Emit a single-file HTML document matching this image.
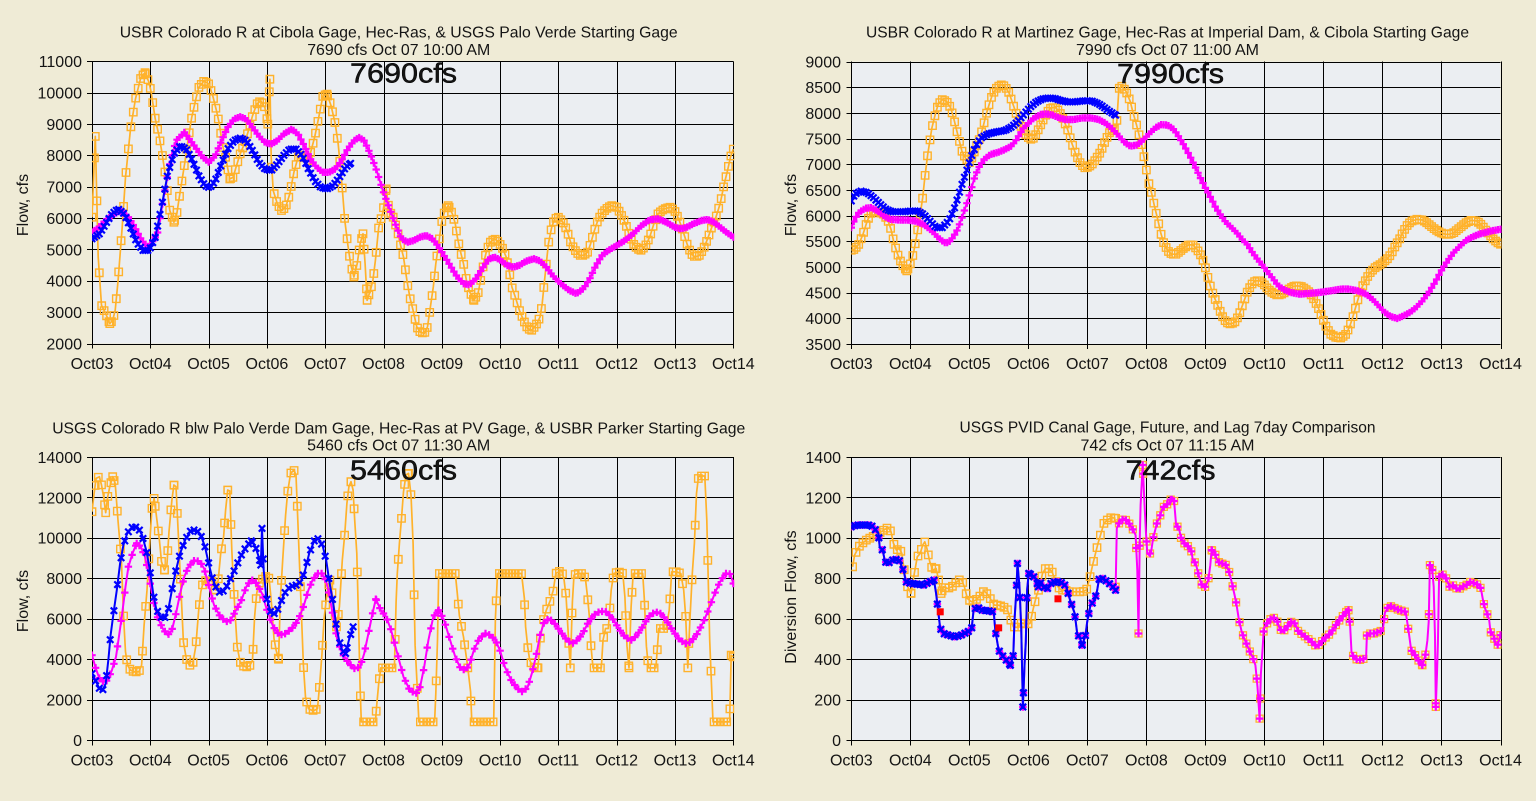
<!DOCTYPE html>
<html><head><meta charset="utf-8">
<style>
html,body{margin:0;padding:0;background:#EFEBD6;overflow:hidden;}
svg{display:block}
text{font-family:"Liberation Sans",Arial,sans-serif;fill:#141414;}
</style></head>
<body>
<svg id="s" width="1536" height="801" xmlns="http://www.w3.org/2000/svg">
<rect width="1536" height="801" fill="#EFEBD6"/>
<g id="plots"></g>

<!-- Titles -->
<g font-size="16" text-anchor="middle">
<text x="398.7" y="37.3" textLength="558" lengthAdjust="spacingAndGlyphs">USBR Colorado R at Cibola Gage, Hec-Ras, &amp; USGS Palo Verde Starting Gage</text>
<text x="398.7" y="55" textLength="183" lengthAdjust="spacingAndGlyphs">7690 cfs Oct 07 10:00 AM</text>
<text x="1167.5" y="37.3" textLength="603" lengthAdjust="spacingAndGlyphs">USBR Colorado R at Martinez Gage, Hec-Ras at Imperial Dam, &amp; Cibola Starting Gage</text>
<text x="1167.5" y="55" textLength="183" lengthAdjust="spacingAndGlyphs">7990 cfs Oct 07 11:00 AM</text>
<text x="398.7" y="433.3" textLength="693" lengthAdjust="spacingAndGlyphs">USGS Colorado R blw Palo Verde Dam Gage, Hec-Ras at PV Gage, &amp; USBR Parker Starting Gage</text>
<text x="398.7" y="450.7" textLength="183" lengthAdjust="spacingAndGlyphs">5460 cfs Oct 07 11:30 AM</text>
<text x="1167.5" y="432.7" textLength="416" lengthAdjust="spacingAndGlyphs">USGS PVID Canal Gage, Future, and Lag 7day Comparison</text>
<text x="1167.5" y="450.7" textLength="174" lengthAdjust="spacingAndGlyphs">742 cfs Oct 07 11:15 AM</text>
</g>

<!-- Big labels -->
<g font-size="28" style="fill:#000;stroke:#000;stroke-width:0.5">
<text x="350" y="82.7" textLength="107" lengthAdjust="spacingAndGlyphs">7690cfs</text>
<text x="1117" y="83" textLength="107" lengthAdjust="spacingAndGlyphs">7990cfs</text>
<text x="350" y="479.5" textLength="107" lengthAdjust="spacingAndGlyphs">5460cfs</text>
<text x="1125.5" y="479.5" textLength="90" lengthAdjust="spacingAndGlyphs">742cfs</text>
</g>

<!-- Y axis titles -->
<g font-size="16" text-anchor="middle">
<text x="28" y="205" transform="rotate(-90 28 205)">Flow, cfs</text>
<text x="796" y="205" transform="rotate(-90 796 205)">Flow, cfs</text>
<text x="28" y="601" transform="rotate(-90 28 601)">Flow, cfs</text>
<text x="796" y="597" transform="rotate(-90 796 597)">Diversion Flow, cfs</text>
</g>

<!-- Y tick labels -->
<g font-size="16" text-anchor="end">
<text x="82" y="67.1">11000</text>
<text x="82" y="98.5">10000</text>
<text x="82" y="129.8">9000</text>
<text x="82" y="161.2">8000</text>
<text x="82" y="192.5">7000</text>
<text x="82" y="223.9">6000</text>
<text x="82" y="255.3">5000</text>
<text x="82" y="286.6">4000</text>
<text x="82" y="318.0">3000</text>
<text x="82" y="349.3">2000</text>

<text x="841" y="67.5">9000</text>
<text x="841" y="93.2">8500</text>
<text x="841" y="118.8">8000</text>
<text x="841" y="144.5">7500</text>
<text x="841" y="170.1">7000</text>
<text x="841" y="195.8">6500</text>
<text x="841" y="221.5">6000</text>
<text x="841" y="247.1">5500</text>
<text x="841" y="272.8">5000</text>
<text x="841" y="298.4">4500</text>
<text x="841" y="324.1">4000</text>
<text x="841" y="349.8">3500</text>

<text x="82" y="462.8">14000</text>
<text x="82" y="503.3">12000</text>
<text x="82" y="543.7">10000</text>
<text x="82" y="584.2">8000</text>
<text x="82" y="624.7">6000</text>
<text x="82" y="665.1">4000</text>
<text x="82" y="705.6">2000</text>
<text x="82" y="746.1">0</text>

<text x="841" y="462.8">1400</text>
<text x="841" y="503.3">1200</text>
<text x="841" y="543.7">1000</text>
<text x="841" y="584.2">800</text>
<text x="841" y="624.7">600</text>
<text x="841" y="665.1">400</text>
<text x="841" y="705.6">200</text>
<text x="841" y="746.1">0</text>
</g>

<!-- X tick labels -->
<g font-size="16" text-anchor="middle">
<text x="92" y="369">Oct03</text>
<text x="150.3" y="369">Oct04</text>
<text x="208.6" y="369">Oct05</text>
<text x="266.9" y="369">Oct06</text>
<text x="325.2" y="369">Oct07</text>
<text x="383.5" y="369">Oct08</text>
<text x="441.8" y="369">Oct09</text>
<text x="500.1" y="369">Oct10</text>
<text x="558.4" y="369">Oct11</text>
<text x="616.7" y="369">Oct12</text>
<text x="675" y="369">Oct13</text>
<text x="733.3" y="369">Oct14</text>

<text x="851.3" y="369">Oct03</text>
<text x="910.3" y="369">Oct04</text>
<text x="969.3" y="369">Oct05</text>
<text x="1028.4" y="369">Oct06</text>
<text x="1087.4" y="369">Oct07</text>
<text x="1146.4" y="369">Oct08</text>
<text x="1205.4" y="369">Oct09</text>
<text x="1264.4" y="369">Oct10</text>
<text x="1323.5" y="369">Oct11</text>
<text x="1382.5" y="369">Oct12</text>
<text x="1441.5" y="369">Oct13</text>
<text x="1500.5" y="369">Oct14</text>

<text x="92" y="765.7">Oct03</text>
<text x="150.3" y="765.7">Oct04</text>
<text x="208.6" y="765.7">Oct05</text>
<text x="266.9" y="765.7">Oct06</text>
<text x="325.2" y="765.7">Oct07</text>
<text x="383.5" y="765.7">Oct08</text>
<text x="441.8" y="765.7">Oct09</text>
<text x="500.1" y="765.7">Oct10</text>
<text x="558.4" y="765.7">Oct11</text>
<text x="616.7" y="765.7">Oct12</text>
<text x="675" y="765.7">Oct13</text>
<text x="733.3" y="765.7">Oct14</text>

<text x="851.3" y="765.7">Oct03</text>
<text x="910.3" y="765.7">Oct04</text>
<text x="969.3" y="765.7">Oct05</text>
<text x="1028.4" y="765.7">Oct06</text>
<text x="1087.4" y="765.7">Oct07</text>
<text x="1146.4" y="765.7">Oct08</text>
<text x="1205.4" y="765.7">Oct09</text>
<text x="1264.4" y="765.7">Oct10</text>
<text x="1323.5" y="765.7">Oct11</text>
<text x="1382.5" y="765.7">Oct12</text>
<text x="1441.5" y="765.7">Oct13</text>
<text x="1500.5" y="765.7">Oct14</text>
</g>
</svg>

<script>
(function(){
var NS="http://www.w3.org/2000/svg";
var G=document.getElementById('plots');
function el(tag,attrs,parent){var e=document.createElementNS(NS,tag);for(var k in attrs)e.setAttribute(k,attrs[k]);(parent||G).appendChild(e);return e;}
var OR="#FFB22B",MG="#FF00FF",BL="#0000FF";
var charts=[
 {x0:92,x1:733.3,y0:61.3,y1:343.5,ny:9,zx0:7,zx1:1557,zy0:11,zy1:860},
 {x0:851.3,x1:1500.5,y0:61.7,y1:344,ny:11,zx0:7,zx1:1562,zy0:11,zy1:860},
 {x0:92,x1:733.3,y0:457,y1:740.3,ny:7,zx0:7,zx1:1557,zy0:11,zy1:860},
 {x0:851.3,x1:1500.5,y0:457,y1:740.3,ny:7,zx0:7,zx1:1562,zy0:11,zy1:860}
];
function mapPts(c,a){var p=[];for(var i=0;i<a.length;i+=2){p.push([c.x0+(a[i]-c.zx0)/(c.zx1-c.zx0)*(c.x1-c.x0),c.y0+(a[i+1]-c.zy0)/(c.zy1-c.zy0)*(c.y1-c.y0)]);}return p;}
function sample(p,step){
 var out=[];var nx=p[0][0];
 for(var i=0;i<p.length-1;i++){var a=p[i],b=p[i+1];if(b[0]<=a[0])continue;
  while(nx<=b[0]+1e-6){var t=(nx-a[0])/(b[0]-a[0]);out.push([nx,a[1]+t*(b[1]-a[1])]);nx+=step;}}
 for(var j=1;j<p.length-1;j++){var y=p[j][1],y1=p[j-1][1],y2=p[j+1][1];
  if(((y<y1&&y<y2)||(y>y1&&y>y2))&&Math.abs(y-(y1+y2)/2)>6)out.push(p[j]);}
 out.push(p[p.length-1]);
 return out;
}
function line(g,p,col,w){el('polyline',{points:p.map(function(q){return q[0].toFixed(1)+','+q[1].toFixed(1);}).join(' '),fill:'none',stroke:col,'stroke-width':w,'stroke-linejoin':'round'},g);}
function marks(g,m,type,col,size,w){
 var d='',h=size/2;
 m.forEach(function(q){var x=q[0],y=q[1];
  if(type==='sq')d+='M'+(x-h).toFixed(1)+' '+(y-h).toFixed(1)+'h'+size+'v'+size+'h'+(-size)+'z';
  else if(type==='plus')d+='M'+(x-h).toFixed(1)+' '+y.toFixed(1)+'h'+size+'M'+x.toFixed(1)+' '+(y-h).toFixed(1)+'v'+size;
  else d+='M'+(x-h).toFixed(1)+' '+(y-h).toFixed(1)+'l'+size+' '+size+'M'+(x+h).toFixed(1)+' '+(y-h).toFixed(1)+'l'+(-size)+' '+size;
 });
 el('path',{d:d,fill:'none',stroke:col,'stroke-width':w},g);
}
function frame(c,i){
 el('rect',{x:c.x0,y:c.y0,width:c.x1-c.x0,height:c.y1-c.y0,fill:'#EBEEF2'});
 var cp=el('clipPath',{id:'cp'+i});
 el('rect',{x:c.x0,y:c.y0-1,width:c.x1-c.x0+1,height:c.y1-c.y0+1},cp);
}
function grid(c){
 var g=el('g',{stroke:'#000','stroke-width':1,'shape-rendering':'crispEdges'});
 for(var i=0;i<=c.ny;i++){var y=Math.round(c.y0+i*(c.y1-c.y0)/c.ny)+0.5;el('line',{x1:c.x0-5,y1:y,x2:c.x1,y2:y},g);}
 for(var d=0;d<=11;d++){var x=Math.round(c.x0+d*(c.x1-c.x0)/11)+0.5;el('line',{x1:x,y1:c.y0,x2:x,y2:c.y1+5},g);}
}
var D={};
D.c1o=[7,480,15,237,22,600,30,745,40,770,50,800,57,790,63,760,70,670,80,510,88,360,100,215,112,125,125,60,135,45,145,75,150,105,160,185,170,240,178,300,185,360,195,460,205,495,212,470,218,420,225,365,232,310,240,240,248,180,258,125,265,90,278,70,290,80,300,120,308,160,315,200,322,260,330,300,340,365,348,360,355,330,365,290,375,260,385,220,395,175,405,140,415,130,425,150,432,200,437,65,440,300,445,400,455,440,465,460,475,450,485,410,495,345,505,300,515,290,530,310,545,240,555,180,565,115,575,110,585,145,595,200,602,260,608,340,613,410,618,490,625,560,632,620,640,660,648,620,655,560,662,530,667,620,672,730,680,700,686,670,692,610,700,510,710,465,718,395,725,460,735,480,745,520,752,560,760,600,768,670,775,720,783,760,792,810,800,825,810,830,818,810,825,750,832,690,838,620,845,560,852,495,860,460,868,445,878,470,885,500,890,540,897,580,905,620,912,670,920,705,930,730,940,710,948,660,955,610,962,575,970,555,980,545,990,555,1000,575,1008,600,1015,640,1022,690,1030,720,1040,760,1050,790,1060,815,1070,820,1080,805,1090,780,1095,740,1100,680,1105,620,1110,560,1118,510,1125,485,1135,480,1145,495,1155,520,1165,560,1175,580,1185,595,1195,595,1205,585,1212,560,1220,525,1228,495,1238,470,1250,455,1262,445,1275,450,1285,470,1295,495,1305,530,1315,560,1325,575,1335,580,1345,565,1355,540,1365,500,1375,470,1390,455,1405,450,1415,460,1425,485,1435,520,1445,560,1455,590,1465,600,1475,595,1485,575,1495,545,1505,510,1515,480,1525,440,1535,380,1543,340,1550,300,1557,275];
D.c1m=[7,525,20,515,35,495,55,475,75,460,95,480,110,510,125,545,140,570,150,560,165,530,180,420,195,320,210,250,230,225,245,250,260,275,275,300,290,315,305,295,320,250,335,210,350,185,365,178,380,185,395,210,410,235,425,255,440,260,455,250,470,230,490,215,505,230,520,265,535,305,550,330,565,345,580,345,595,335,610,310,625,275,640,250,652,240,665,250,680,290,695,340,710,400,725,450,740,500,755,545,770,555,785,550,800,540,815,535,830,545,845,570,860,600,875,630,890,660,905,680,920,683,935,665,950,635,965,607,980,600,995,610,1010,625,1025,630,1040,625,1055,613,1075,605,1090,612,1105,630,1120,655,1140,680,1160,700,1178,710,1195,695,1210,665,1225,625,1240,595,1255,580,1275,565,1295,550,1315,530,1335,505,1355,488,1375,485,1395,495,1415,510,1430,515,1445,510,1460,500,1480,490,1495,487,1510,495,1525,510,1540,525,1557,540];
D.c1b=[7,545,25,530,40,500,55,470,70,455,85,470,100,510,115,555,130,580,145,580,160,540,175,450,190,350,205,290,220,265,235,275,250,310,265,355,280,385,292,392,305,370,320,320,335,275,350,250,365,242,380,250,395,280,410,315,425,335,440,340,455,320,470,295,485,275,500,275,515,295,530,335,545,370,560,390,575,395,590,385,605,360,620,330,632,318];
D.c2o=[7,578,15,575,25,560,35,530,45,490,55,465,65,460,75,465,85,470,95,490,102,515,110,560,118,590,128,620,140,640,150,615,157,580,165,525,172,470,178,420,183,360,190,290,195,250,200,210,208,170,215,140,225,125,235,130,245,150,252,180,260,220,266,250,272,280,280,300,290,315,298,295,305,270,315,240,322,210,330,170,337,140,345,110,355,90,365,80,375,85,385,105,393,135,400,160,408,190,415,210,425,230,435,245,445,240,455,215,465,190,475,165,485,150,495,148,505,160,515,185,525,215,535,255,545,290,555,315,565,330,575,328,585,318,595,300,605,280,615,250,625,225,635,215,642,210,648,92,655,85,665,100,675,130,682,165,690,200,697,235,703,265,710,310,715,345,720,380,727,410,733,445,740,480,748,525,755,555,765,580,775,590,785,590,795,580,805,570,815,562,825,562,835,575,845,595,853,620,860,655,868,690,875,715,885,745,895,775,905,795,915,800,925,795,935,775,945,740,955,705,965,682,975,670,985,670,995,680,1005,695,1015,705,1025,712,1035,712,1045,705,1055,695,1065,687,1075,685,1085,687,1095,695,1105,705,1115,725,1125,750,1135,780,1145,810,1155,830,1168,840,1180,842,1192,830,1200,810,1208,780,1215,750,1222,720,1230,690,1240,665,1250,645,1262,630,1275,620,1290,605,1300,590,1310,565,1320,545,1330,520,1340,500,1350,490,1362,485,1375,487,1385,495,1395,505,1405,515,1418,525,1430,530,1440,530,1450,525,1460,515,1470,505,1480,495,1492,488,1505,490,1515,500,1525,515,1535,530,1545,545,1555,555,1562,560];
D.c2m=[7,510,15,485,25,465,40,452,55,450,70,460,85,475,100,485,120,487,140,487,160,490,180,500,200,520,215,540,230,555,240,555,250,540,262,515,272,480,283,440,293,400,302,360,312,330,325,305,340,290,360,283,375,275,390,265,400,250,410,230,420,210,432,195,445,180,460,170,475,168,490,172,505,180,520,185,540,185,560,180,580,180,600,185,615,195,630,210,645,230,660,252,675,265,690,262,705,248,720,228,735,210,750,200,765,202,780,215,793,240,805,265,818,295,830,325,843,360,855,390,868,420,880,450,893,475,905,495,918,510,930,525,943,545,955,560,968,585,980,605,993,625,1005,645,1018,665,1030,685,1045,698,1060,705,1080,710,1100,708,1120,706,1140,703,1160,699,1180,695,1200,695,1220,700,1240,710,1255,725,1270,745,1285,765,1300,778,1315,783,1330,775,1345,765,1360,750,1375,730,1390,705,1405,675,1420,640,1435,610,1450,585,1465,565,1480,548,1495,538,1510,530,1525,525,1540,520,1562,515];
D.c2b=[7,430,15,410,30,400,45,405,60,420,75,438,90,455,105,462,120,462,135,462,150,460,165,460,180,470,195,490,210,510,225,510,240,490,252,460,262,420,272,380,283,340,295,295,305,265,318,240,335,228,355,222,375,218,390,208,405,192,420,170,435,148,450,132,465,123,480,120,495,122,510,128,525,132,540,132,555,130,570,128,585,130,600,138,612,148,625,160,640,172];
D.c3o=[7,175,12,120,17,75,25,70,30,95,35,130,40,178,45,130,50,100,57,70,63,90,70,205,78,320,83,480,88,595,93,635,100,650,110,655,120,655,127,635,133,515,140,410,147,260,152,165,157,135,162,180,170,260,175,325,182,350,188,335,193,235,200,140,205,95,210,100,215,230,222,410,228,565,235,615,242,635,250,635,258,578,265,470,270,415,275,390,280,380,285,385,292,380,298,385,305,410,312,380,318,300,325,250,330,170,335,110,340,113,345,290,352,460,358,580,365,625,372,637,380,640,388,637,395,620,400,490,405,420,410,390,415,385,422,372,430,367,435,375,440,440,447,555,452,590,458,617,462,440,468,320,475,185,480,115,487,60,495,50,500,65,505,215,512,440,518,635,523,730,530,765,538,770,545,770,552,765,557,695,563,600,568,495,575,420,582,380,590,440,598,520,605,460,612,320,618,240,623,150,628,100,633,85,638,110,642,200,647,300,652,545,655,700,658,805,665,805,680,805,692,805,695,755,700,690,705,643,715,643,730,643,738,643,742,445,745,360,750,270,755,195,760,115,766,65,772,60,778,125,783,270,788,575,793,700,797,805,805,805,820,805,835,805,838,720,842,560,845,360,855,360,870,360,885,360,890,420,895,487,905,550,915,640,922,715,925,805,940,805,960,805,978,805,982,495,987,360,1000,360,1020,360,1045,360,1052,435,1055,520,1060,580,1065,620,1073,640,1085,643,1090,560,1098,500,1105,470,1115,440,1122,410,1128,360,1135,355,1142,350,1148,380,1153,430,1160,580,1163,643,1168,445,1172,365,1180,360,1195,360,1200,380,1205,435,1210,500,1213,578,1218,643,1230,643,1238,643,1242,560,1248,525,1255,525,1262,410,1268,360,1280,355,1290,360,1295,430,1300,578,1305,643,1310,460,1315,360,1325,360,1338,360,1342,435,1347,578,1352,643,1360,643,1370,643,1377,525,1385,525,1395,525,1402,470,1408,355,1420,355,1430,360,1437,410,1442,490,1447,643,1452,500,1458,360,1463,270,1468,120,1473,70,1480,68,1488,68,1493,200,1500,560,1505,715,1508,805,1520,805,1535,805,1548,805,1552,605,1557,610];
D.c3m=[7,605,15,640,25,675,35,685,45,680,55,650,65,610,72,550,80,480,88,400,95,340,105,300,115,270,125,280,135,310,145,370,155,440,165,490,178,525,190,545,200,530,210,480,220,420,230,370,240,340,255,320,268,325,278,345,290,400,302,455,315,485,330,505,342,500,355,470,368,440,380,400,392,378,405,390,418,420,430,470,445,520,460,545,475,540,490,525,505,500,518,460,530,410,540,380,552,360,562,360,572,380,580,420,590,490,600,560,612,600,625,625,640,645,655,640,665,600,675,540,685,480,693,437,705,470,718,490,730,530,745,600,760,670,775,710,790,720,800,700,810,640,820,560,832,490,845,470,858,500,870,550,885,610,898,645,910,650,920,630,930,590,943,555,958,540,970,545,982,560,993,590,1005,640,1020,680,1035,705,1048,715,1060,700,1070,660,1080,610,1090,545,1100,505,1112,495,1125,510,1140,535,1155,560,1168,570,1180,560,1193,540,1205,510,1220,485,1235,473,1250,475,1265,495,1280,525,1295,550,1310,560,1322,548,1338,520,1352,490,1368,475,1382,480,1395,500,1410,530,1425,555,1440,570,1455,565,1470,540,1485,505,1500,460,1512,420,1525,385,1538,360,1550,362,1557,390];
D.c3b=[7,660,15,680,25,705,32,712,40,690,47,615,52,545,60,470,67,410,75,330,83,275,92,240,105,220,118,222,128,245,138,290,147,350,155,420,162,465,172,490,182,495,192,465,200,410,210,350,220,300,232,260,245,233,258,228,270,245,280,280,290,335,298,375,308,405,318,420,330,405,342,375,355,340,368,305,380,280,392,262,402,280,410,310,415,335,418,225,422,350,428,430,440,480,452,480,462,450,472,420,485,400,500,395,512,385,522,350,532,300,545,260,555,255,565,280,573,320,580,380,590,450,598,520,605,565,612,590,620,600,628,560,638,520];
D.c4o=[10,340,15,305,25,280,35,268,45,258,55,252,65,245,75,238,85,230,95,222,102,235,108,270,115,290,122,285,128,300,135,360,142,400,150,420,158,360,165,310,172,300,178,275,183,265,188,285,195,325,202,350,210,345,218,390,222,420,228,400,238,405,248,400,260,385,270,375,278,400,285,435,295,445,305,440,315,428,325,412,335,425,342,440,350,455,360,455,370,460,380,465,388,495,395,520,405,522,415,508,425,512,435,510,442,470,450,430,458,400,465,360,472,345,480,345,488,355,495,380,502,400,510,410,520,410,530,415,540,415,550,415,560,415,570,410,578,375,585,335,592,300,598,270,605,240,612,210,620,200,630,192,640,195];
D.c4b=[7,220,20,215,35,215,50,215,60,220,68,235,72,240,75,280,82,290,88,325,95,330,105,320,115,318,122,320,128,340,133,355,138,385,150,390,165,392,180,395,195,385,205,380,210,420,215,470,220,525,228,540,240,545,255,550,270,545,285,535,295,530,300,470,308,460,320,470,335,472,348,475,352,530,358,575,362,595,368,605,375,615,382,625,388,635,395,605,398,500,402,420,405,330,410,400,414,520,418,760,422,630,425,565,428,410,432,360,440,365,448,375,455,400,462,385,470,405,478,405,485,390,495,385,505,385,515,390,522,400,530,435,538,465,542,480,548,540,555,555,560,575,568,545,572,505,580,455,590,440,596,410,600,378,610,375,620,385,630,395,640,410];
D.c4m=[640,400,643,225,650,205,660,195,670,205,680,225,688,245,692,350,695,540,698,250,700,155,705,35,710,170,713,240,716,300,720,305,725,295,730,255,735,230,740,205,745,195,752,165,760,155,768,150,775,130,780,140,785,215,792,225,797,255,805,270,815,280,822,295,825,320,832,330,840,370,848,400,855,400,862,380,867,335,870,290,878,300,885,325,895,330,905,335,912,355,918,385,925,425,930,455,935,495,942,535,948,555,955,575,962,595,968,610,975,635,980,700,985,795,988,660,992,590,995,525,1005,505,1015,492,1025,495,1033,525,1040,535,1048,525,1060,505,1070,510,1078,535,1090,545,1100,555,1110,565,1122,580,1130,570,1140,555,1150,545,1160,530,1170,510,1180,495,1190,478,1198,470,1202,520,1205,595,1210,610,1220,620,1232,617,1240,612,1242,545,1250,540,1260,540,1270,535,1280,530,1285,478,1295,455,1305,462,1320,470,1335,475,1342,535,1348,590,1355,600,1365,620,1375,635,1382,605,1387,560,1390,505,1393,335,1398,340,1402,400,1405,550,1407,760,1410,660,1412,570,1415,370,1420,360,1430,370,1440,400,1450,395,1460,410,1470,400,1480,395,1490,385,1500,390,1510,395,1515,405,1520,440,1525,465,1530,480,1535,500,1538,535,1545,545,1550,570,1555,575,1562,545];

var H1=641.3/264, H2=649.2/264;
charts.forEach(function(c,i){frame(c,i);grid(c);});
// chart 1
(function(){var c=charts[0];var g=el('g',{'clip-path':'url(#cp0)'});
 var o=mapPts(c,D.c1o),m=mapPts(c,D.c1m),b=mapPts(c,D.c1b);
 line(g,o,OR,1.7);marks(g,sample(o,H1),'sq',OR,7.4,1.4);
 line(g,m,MG,2);marks(g,sample(m,H1),'plus',MG,7.4,2.2);
 line(g,b,BL,2);marks(g,sample(b,H1),'x',BL,6.4,2.2);
})();
// chart 2
(function(){var c=charts[1];var g=el('g',{'clip-path':'url(#cp1)'});
 var o=mapPts(c,D.c2o),m=mapPts(c,D.c2m),b=mapPts(c,D.c2b);
 line(g,o,OR,1.7);marks(g,sample(o,H2),'sq',OR,7.4,1.4);
 line(g,m,MG,2);marks(g,sample(m,H2),'plus',MG,7.4,2.2);
 line(g,b,BL,2);marks(g,sample(b,H2),'x',BL,6.4,2.2);
})();
// chart 3
(function(){var c=charts[2];var g=el('g',{'clip-path':'url(#cp2)'});
 var o=mapPts(c,D.c3o),m=mapPts(c,D.c3m),b=mapPts(c,D.c3b);
 line(g,o,OR,1.7);marks(g,sample(o,H1*1.3),'sq',OR,7.4,1.4);
 line(g,m,MG,2);marks(g,sample(m,H1*1.5),'plus',MG,7.4,2.2);
 line(g,b,BL,2);marks(g,sample(b,H1*1.5),'x',BL,6.4,2.2);
})();
// chart 4
(function(){var c=charts[3];var g=el('g',{'clip-path':'url(#cp3)'});
 var o=mapPts(c,D.c4o),b=mapPts(c,D.c4b),m2=mapPts(c,D.c4m);
 var st=H2*1.4;
 line(g,o,OR,1.7);marks(g,sample(o,st),'sq',OR,7.4,1.4);
 var m2s=sample(m2,st);
 marks(g,m2s,'sq',OR,7,1.3);
 var mall=b.concat(m2.slice(1));
 line(g,mall,MG,2);marks(g,sample(b,st),'plus',MG,7.5,2.2);marks(g,m2s,'plus',MG,7.5,2.2);
 line(g,b,BL,2);marks(g,sample(b,st),'x',BL,6.5,2.3);
 mapPts(c,[220,475,360,523,502,436]).forEach(function(q){el('rect',{x:q[0]-3.5,y:q[1]-3.5,width:7,height:7,fill:'#FF0000'},g);});
})();
})();
</script>
</body></html>
